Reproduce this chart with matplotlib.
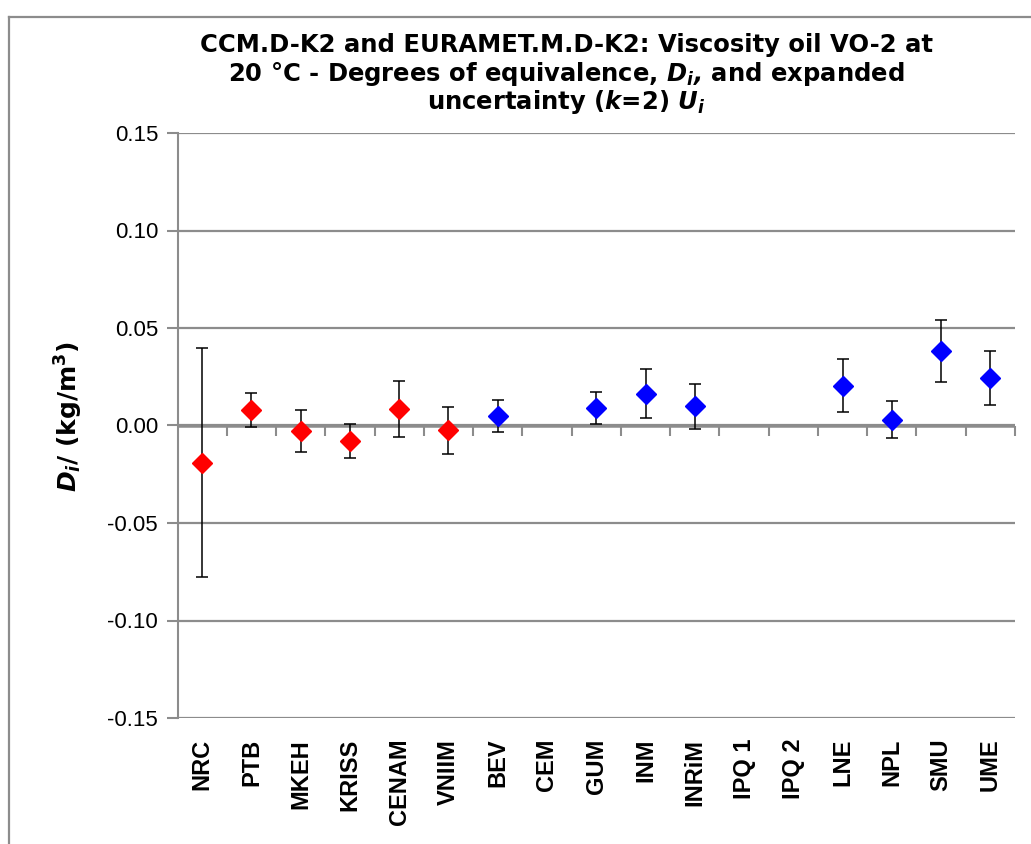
import numpy as np
import matplotlib
matplotlib.use('Agg')
import matplotlib.pyplot as plt
from matplotlib.lines import Line2D

# participants (CCM key comparison first, then EURAMET)
labs = ['NRC', 'PTB', 'MKEH', 'KRISS', 'CENAM', 'VNIIM', 'BEV', 'CEM', 'GUM',
        'INM', 'INRiM', 'IPQ 1', 'IPQ 2', 'LNE', 'NPL', 'SMU', 'UME']
# degrees of equivalence D_i in kg/m3 (nan = no result shown)
di = [-0.0190, 0.0081, -0.0030, -0.0078, 0.0085, -0.0025, 0.0049, np.nan, 0.0091,
      0.0162, 0.0098, np.nan, np.nan, 0.0205, 0.0030, 0.0382, 0.0243]
# expanded uncertainty U_i (k=2)
ui = [0.0588, 0.0088, 0.0107, 0.0088, 0.0143, 0.0119, 0.0080, np.nan, 0.0083,
      0.0126, 0.0117, np.nan, np.nan, 0.0138, 0.0094, 0.0157, 0.0137]
# which comparison each lab took part in
group = ['CCM'] * 6 + ['EURAMET'] * 11
colours = {'CCM': '#FF0000', 'EURAMET': '#0000FF'}

grey = '#8c8c8c'
plt.rcParams['font.family'] = ['Liberation Sans', 'DejaVu Sans']
plt.rcParams['mathtext.fontset'] = 'dejavusans'

fig = plt.figure(figsize=(10.31, 8.44), dpi=100)
ax = fig.add_axes([177.5 / 1031, 1 - 718 / 844, (1015 - 177.5) / 1031, (718 - 133) / 844])

x = np.arange(len(labs))
di = np.array(di)
ui = np.array(ui)

# error bars and diamonds, one colour per group
for g in ['CCM', 'EURAMET']:
    m = np.array([gg == g for gg in group])
    ax.errorbar(x[m], di[m], yerr=ui[m], fmt='none', ecolor='black',
                elinewidth=1.1, capsize=4, capthick=1.1, zorder=3)
    ax.plot(x[m], di[m], linestyle='none', marker='D', ms=10.5,
            color=colours[g], mec=colours[g], zorder=4)

ax.set_xlim(-0.5, len(labs) - 0.5)
ax.set_ylim(-0.15, 0.15)
ax.set_yticks(np.arange(-0.15, 0.151, 0.05))
ax.set_yticklabels(['%.2f' % v for v in np.arange(-0.15, 0.151, 0.05)], fontsize=16)
ax.set_xticks(x)
ax.set_xticklabels(labs, rotation=90, fontsize=17, fontweight='bold')

ax.tick_params(axis='x', length=0, pad=15)
ax.tick_params(axis='y', length=8, width=1.5, color=grey, pad=6)
ax.grid(axis='y', color=grey, linewidth=1.6)
ax.grid(axis='x', visible=False)
ax.set_axisbelow(True)

for s in ['top', 'right', 'bottom']:
    ax.spines[s].set_visible(False)
ax.spines['left'].set_color(grey)
ax.spines['left'].set_linewidth(1.5)

# zero axis with small ticks between categories
edges = np.arange(len(labs) + 1) - 0.5
ax.axhline(0, color=grey, linewidth=1.8, zorder=1)
ax.plot(edges[1:], np.zeros(len(edges) - 1), linestyle='none', marker=3,
        ms=7, mew=1.5, color=grey, zorder=1, clip_on=False)

# y axis label
fig.text(69 / 1031, 1 - 416 / 844, r'$\mathbfit{D}_\mathbfit{i}$/ (kg/m$^\mathbf{3}$)',
         rotation=90, ha='center', va='center', fontsize=18, fontweight='bold',
         family='DejaVu Sans')

# title, three lines
tx = 566 / 1031
tkw = dict(ha='center', va='center', fontsize=17.5, fontweight='bold', family='DejaVu Sans')
fig.text(tx, 1 - 45 / 844, 'CCM.D-K2 and EURAMET.M.D-K2: Viscosity oil VO-2 at', **tkw)
fig.text(tx, 1 - 74 / 844, r'20 °C - Degrees of equivalence, $\mathbfit{D}_\mathbfit{i}$$\mathbfit{,}$ and expanded', **tkw)
fig.text(tx, 1 - 102 / 844, r'uncertainty ($\mathbfit{k}$=2) $\mathbfit{U}_\mathbfit{i}$', **tkw)

# chart frame (left and top edges visible)
fig.add_artist(Line2D([9 / 1031, 9 / 1031], [0, 1 - 17 / 844], color=grey, lw=1.6))
fig.add_artist(Line2D([9 / 1031, 1], [1 - 17 / 844, 1 - 17 / 844], color=grey, lw=1.6))

fig.savefig('out.png', dpi=100)
